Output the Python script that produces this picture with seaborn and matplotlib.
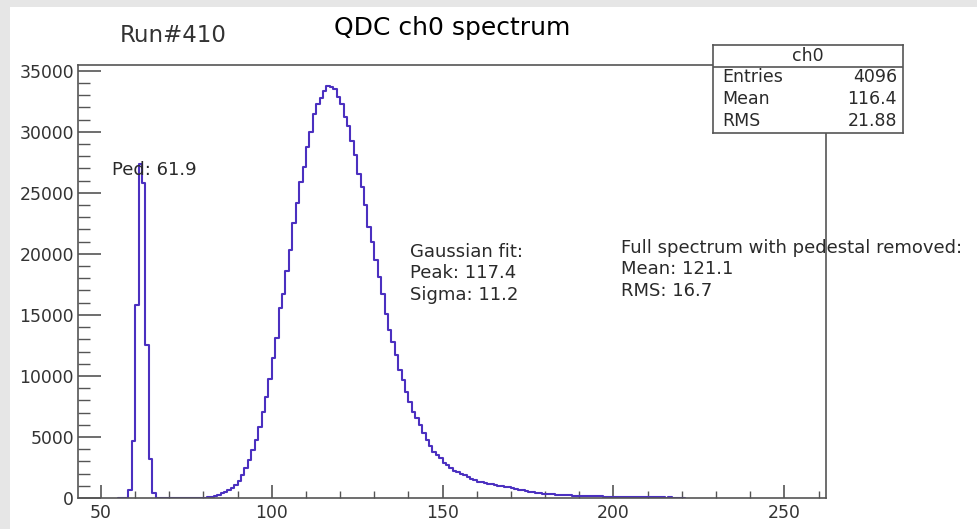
import matplotlib.pyplot as plt
import matplotlib.ticker as ticker
from matplotlib.patches import Rectangle
import seaborn as sns
import pandas as pd
import numpy as np

# Histogram contents (1-unit QDC bins)
ped_start = 58
ped_counts = [650, 4690, 15790, 27380, 25830, 12520, 3190, 380]

main_start = 80
main_counts = [
    30, 80, 110, 160, 250, 380, 500, 650, 850, 1060,               # 80-89
    1420, 1880, 2430, 3110, 3930, 4740, 5830, 7060, 8290, 9730,    # 90-99
    11450, 13090, 15540, 16740, 18590, 20290, 22500, 24130, 25870, 27100,  # 100-109
    28740, 29960, 31470, 32290, 32780, 33370, 33730, 33650, 33510, 32830,  # 110-119
    32290, 31190, 30510, 29280, 28060, 26560, 25470, 23970, 22190, 20960,  # 120-129
    19470, 18100, 16740, 15110, 13740, 12790, 11700, 10470, 9650, 8700,    # 130-139
    7880, 7060, 6520, 5970, 5290, 4740, 4300, 3790, 3520, 3250,    # 140-149
    2840, 2700, 2450, 2250, 2100, 1950, 1850, 1700, 1580, 1450,    # 150-159
    1350, 1300, 1250, 1180, 1120, 1060, 1000, 950, 880, 900,       # 160-169
    790, 740, 690, 640, 580, 520, 480, 440, 400, 360,              # 170-179
    330, 320, 300, 280, 260, 250, 230, 210, 190, 170,              # 180-189
    160, 150, 145, 140, 135, 130, 125, 120, 115, 110,              # 190-199
    105, 100, 100, 100, 95, 95, 90, 90, 90, 85,                    # 200-209
    85, 80, 80, 80, 70, 0, 50,                                     # 210-216
]

stats_labels = ["Entries", "Mean", "RMS"]
stats_values = ["4096", "116.4", "21.88"]
gauss_lines = ["Gaussian fit:", "Peak: 117.4", "Sigma: 11.2"]
full_lines = ["Full spectrum with pedestal removed:", "Mean: 121.1", "RMS: 16.7"]

# Build full bin arrays
lo, hi = 55, 221
counts = np.zeros(hi - lo)
counts[ped_start - lo:ped_start - lo + len(ped_counts)] = ped_counts
counts[main_start - lo:main_start - lo + len(main_counts)] = main_counts
df = pd.DataFrame({"qdc": np.arange(lo, hi) + 0.5, "n": counts})

sns.set_style("white")
plt.rcParams["font.family"] = ["DejaVu Sans"]

line_color = "#4b30c0"
frame_color = "#555555"
text_color = "#2a2a2a"

fig = plt.figure(figsize=(9.78, 5.29), dpi=100, facecolor="#e6e6e6")
fig.patches.append(Rectangle((10 / 978, 0), 1, 1 - 7 / 529, transform=fig.transFigure,
                             facecolor="white", edgecolor="none", zorder=-10))

ax = fig.add_axes([0.0798, 0.0586, 0.7648, 0.8185])
ax.set_facecolor("white")
sns.histplot(data=df, x="qdc", weights="n", binwidth=1, binrange=(lo, hi),
             element="step", fill=False, color=line_color, linewidth=1.5, ax=ax)

ax.set_xlim(43.3, 262.2)
ax.set_ylim(0, 35470)
ax.set_xlabel("")
ax.set_ylabel("")
ax.set_xticks(range(50, 251, 50))
ax.xaxis.set_minor_locator(ticker.MultipleLocator(10))
ax.set_yticks(range(0, 35001, 5000))
ax.yaxis.set_minor_locator(ticker.MultipleLocator(1000))

for s in ax.spines.values():
    s.set_color(frame_color)
    s.set_linewidth(1.2)

ax.tick_params(which="both", direction="in", color=frame_color,
               bottom=True, left=True, top=False, right=False)
ax.tick_params(axis="y", which="major", length=16.5, width=1.2, pad=3,
               labelsize=12.4, labelcolor="#333333")
ax.tick_params(axis="y", which="minor", length=8.5, width=1.0)
ax.tick_params(axis="x", which="major", length=9.5, width=1.2, pad=4.5,
               labelsize=12.4, labelcolor="#333333")
ax.tick_params(axis="x", which="minor", length=5, width=1.0)

# Titles
fig.text(0.4622, 1 - 28 / 529, "QDC ch0 spectrum", ha="center", va="center",
         fontsize=18, color="black")
fig.text(0.1227, 1 - 35 / 529, "Run#410", ha="left", va="center",
         fontsize=16.5, color="#333333")

# Annotations
ax.text(53.2, 26875, "Ped: 61.9", ha="left", va="center", fontsize=13, color=text_color)
for i, t in enumerate(gauss_lines):
    ax.text(140.4, 20160 - i * 1760, t, ha="left", va="center", fontsize=13, color=text_color)
for i, t in enumerate(full_lines):
    ax.text(202.3, 20490 - i * 1760, t, ha="left", va="center", fontsize=13, color=text_color)

# Stats box
sb = fig.add_axes([0.729, 0.7486, 0.1943, 0.1663])
sb.set_facecolor("white")
sb.set_xticks([])
sb.set_yticks([])
sb.set_xlim(0, 1)
sb.set_ylim(0, 1)
for s in sb.spines.values():
    s.set_color(frame_color)
    s.set_linewidth(1.2)
sb.axhline(0.75, color=frame_color, linewidth=1.2)
sb.text(0.5, 0.875, "ch0", ha="center", va="center", fontsize=12.5, color=text_color)
for i, (lab, val) in enumerate(zip(stats_labels, stats_values)):
    yy = 0.642 - i * 0.252
    sb.text(0.047, yy, lab, ha="left", va="center", fontsize=12.5, color=text_color)
    sb.text(0.968, yy, val, ha="right", va="center", fontsize=12.5, color=text_color)

plt.savefig("out.png", dpi=100, facecolor=fig.get_facecolor())
